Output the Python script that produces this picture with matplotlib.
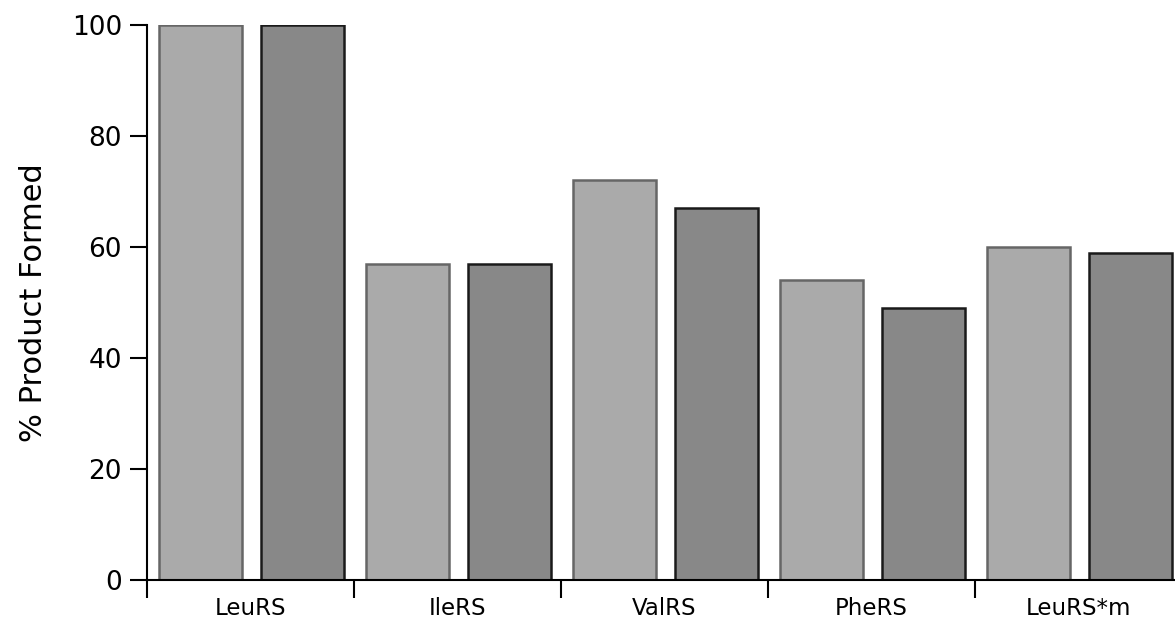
import numpy as np
import matplotlib.pyplot as plt
from matplotlib.ticker import FixedLocator

# Data
enzymes = ['LeuRS', 'IleRS', 'ValRS', 'PheRS', 'LeuRS*m']
series_a = [100, 57, 72, 54, 60]   # light grey bars
series_b = [100, 57, 67, 49, 59]   # dark grey bars

plt.rcParams['font.family'] = ['DejaVu Sans']

fig = plt.figure(figsize=(11.75, 6.21), dpi=100)
# axes runs a little past the right edge of the figure, like the original
ax = fig.add_axes([147 / 1175, 41 / 621, 1035 / 1175, 555 / 621])

x = np.arange(len(enzymes))
w = 0.4
ax.bar(x + 0.258, series_a, width=w, color='#aaaaaa', edgecolor='#666666', linewidth=1.8, zorder=2)
ax.bar(x + 0.75, series_b, width=w, color='#888888', edgecolor='#1a1a1a', linewidth=1.8, zorder=2)

ax.set_xlim(0, len(enzymes))
ax.set_ylim(0, 100)

ax.set_yticks([0, 20, 40, 60, 80, 100])
ax.tick_params(axis='y', direction='out', length=12, width=1.5, labelsize=19, pad=6)

# category labels centred, boundary ticks between groups
ax.set_xticks(x + 0.5)
ax.set_xticklabels(enzymes)
ax.xaxis.set_minor_locator(FixedLocator(np.arange(len(enzymes) + 1)))
ax.tick_params(axis='x', which='major', length=0, labelsize=16.5, pad=12)
ax.tick_params(axis='x', which='minor', direction='out', length=13, width=1.5)

for s in ['top', 'right']:
    ax.spines[s].set_visible(False)
ax.spines['left'].set_linewidth(1.5)
ax.spines['bottom'].set_linewidth(1.5)

ax.set_ylabel('% Product Formed', fontsize=22, labelpad=17)

fig.savefig('out.png', dpi=100)
